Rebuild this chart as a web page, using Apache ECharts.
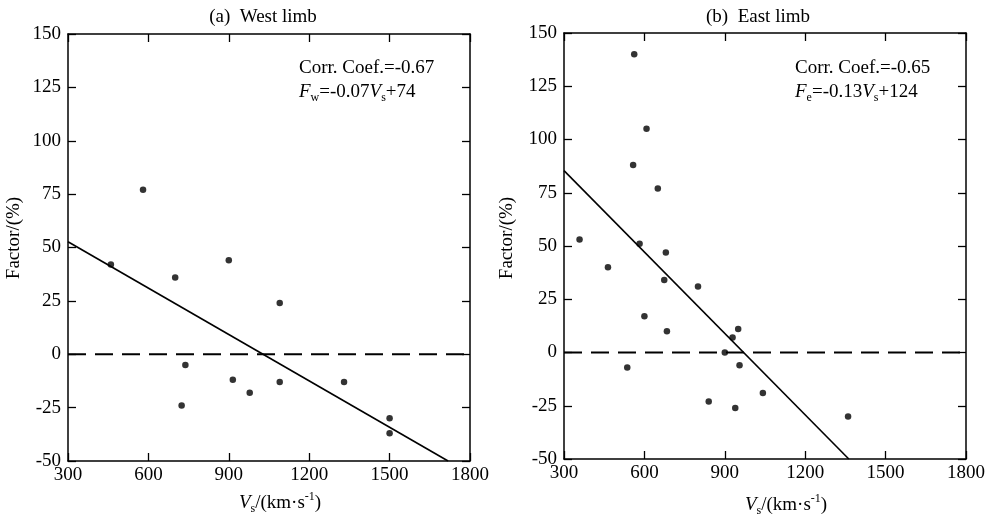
<!DOCTYPE html>
<html>
<head>
<meta charset="utf-8">
<script src="https://cdn.jsdelivr.net/npm/echarts@6/dist/echarts.min.js"></script>
<style>
html, body { margin: 0; padding: 0; background: #fff; }
#chart { width: 993px; height: 519px; }
</style>
</head>
<body>
<div id="chart"></div>
<script>
// Axis ranges and ticks shared by both panels
const vsMin = 300, vsMax = 1800, vsStep = 300;
const factorMin = -50, factorMax = 150, factorStep = 25;

// (a) West limb: shock speed Vs (km/s) vs. factor (%)
const westVs     = [460, 580, 700, 900, 1090, 738, 915, 978, 1090, 1330, 724, 1500, 1500];
const westFactor = [42,  77,  36,  44,  24,   -5,  -12, -18, -13,  -13,  -24, -30,  -37];

// (b) East limb
const eastVs     = [562, 608, 558, 650, 358, 582, 680, 464, 674, 800, 600, 684, 950, 929, 900, 955, 536, 1042, 840, 939, 1360];
const eastFactor = [140, 105, 88,  77,  53,  51,  47,  40,  34,  31,  17,  10,  11,  7,   0,   -6,  -7,  -19,  -23, -26, -30];

// Linear fits F = slope * Vs + intercept
const westFit = { slope: -0.0724, intercept: 74.4 };
const eastFit = { slope: -0.1274, intercept: 123.6 };

const serif = 'Liberation Serif, Times New Roman, serif';
const ink = '#000';

function fitSegment(fit) {
  // clip the regression line to the plotted window
  const x0 = vsMin;
  const xEnd = Math.min(vsMax, (factorMin - fit.intercept) / fit.slope);
  return [[x0, fit.slope * x0 + fit.intercept], [xEnd, fit.slope * xEnd + fit.intercept]];
}

function pairs(xs, ys) { return xs.map((x, i) => [x, ys[i]]); }

const plain = v => String(v);

const grids = [
  { left: 68, top: 34, width: 402, height: 427 },
  { left: 564, top: 33, width: 402, height: 426 }
];

function xAxisPair(gi) {
  const base = {
    gridIndex: gi, type: 'value', min: vsMin, max: vsMax, interval: vsStep,
    splitLine: { show: false },
    axisLine: { show: true, onZero: false, lineStyle: { color: ink, width: 1.5 } },
    axisTick: { show: true, inside: true, length: 8, lineStyle: { color: ink, width: 1.3 } }
  };
  return [
    Object.assign({}, base, { position: 'bottom',
      axisLabel: { color: ink, fontFamily: serif, fontSize: 19, margin: 5, hideOverlap: false, formatter: plain } }),
    Object.assign({}, base, { position: 'top', axisLabel: { show: false } })
  ];
}

function yAxisPair(gi) {
  const base = {
    gridIndex: gi, type: 'value', min: factorMin, max: factorMax, interval: factorStep,
    splitLine: { show: false },
    axisLine: { show: true, onZero: false, lineStyle: { color: ink, width: 1.5 } },
    axisTick: { show: true, inside: true, length: 8, lineStyle: { color: ink, width: 1.3 } }
  };
  return [
    Object.assign({}, base, { position: 'left',
      axisLabel: { color: ink, fontFamily: serif, fontSize: 19, margin: 7, hideOverlap: false, formatter: plain } }),
    Object.assign({}, base, { position: 'right', axisLabel: { show: false } })
  ];
}

function panelSeries(xIdx, yIdx, vs, factor, fit) {
  return [
    {
      type: 'line', xAxisIndex: xIdx, yAxisIndex: yIdx,
      data: [[vsMin, 0], [vsMax, 0]],
      symbol: 'none', silent: true,
      lineStyle: { color: ink, width: 2, type: [18, 9] }
    },
    {
      type: 'line', xAxisIndex: xIdx, yAxisIndex: yIdx,
      data: fitSegment(fit),
      symbol: 'none', silent: true,
      lineStyle: { color: ink, width: 1.6 }
    },
    {
      type: 'scatter', xAxisIndex: xIdx, yAxisIndex: yIdx,
      data: pairs(vs, factor),
      symbol: 'circle', symbolSize: 6.5,
      itemStyle: { color: ink }
    }
  ];
}

const richText = {
  n:   { fontFamily: serif, fontSize: 19, color: ink, lineHeight: 24 },
  i:   { fontFamily: serif, fontSize: 19, fontStyle: 'italic', color: ink, lineHeight: 24 },
  sub: { fontFamily: serif, fontSize: 12, color: ink, lineHeight: 12, verticalAlign: 'bottom' },
  sup: { fontFamily: serif, fontSize: 12, color: ink, lineHeight: 12, verticalAlign: 'top' }
};

function txt(x, y, text, opts) {
  return Object.assign({
    type: 'text', x: x, y: y, silent: true,
    style: Object.assign({
      text: text, fill: ink, font: '19px ' + serif,
      align: 'center', verticalAlign: 'middle', rich: richText
    }, (opts && opts.style) || {})
  }, opts && opts.el ? opts.el : {});
}

const graphics = [
  // panel titles
  txt(263, 17, '(a)  West limb'),
  txt(758, 17, '(b)  East limb'),
  // y axis names
  txt(14, 238, 'Factor/(%)', { el: { rotation: Math.PI / 2 } }),
  txt(507, 238, 'Factor/(%)', { el: { rotation: Math.PI / 2 } }),
  // x axis names
  txt(280, 503, '{i|V}{sub|s}{n|/(km·s}{sup|-1}{n|)}'),
  txt(786, 505, '{i|V}{sub|s}{n|/(km·s}{sup|-1}{n|)}'),
  // fit annotations
  txt(299, 68, 'Corr. Coef.=-0.67', { style: { align: 'left' } }),
  txt(299, 92, '{i|F}{sub|w}{n|=-0.07}{i|V}{sub|s}{n|+74}', { style: { align: 'left' } }),
  txt(795, 68, 'Corr. Coef.=-0.65', { style: { align: 'left' } }),
  txt(795, 92, '{i|F}{sub|e}{n|=-0.13}{i|V}{sub|s}{n|+124}', { style: { align: 'left' } })
];

const chart = echarts.init(document.getElementById('chart'), null, { renderer: 'canvas' });
chart.setOption({
  animation: false,
  backgroundColor: '#fff',
  grid: grids,
  xAxis: [...xAxisPair(0), ...xAxisPair(1)],
  yAxis: [...yAxisPair(0), ...yAxisPair(1)],
  series: [
    ...panelSeries(0, 0, westVs, westFactor, westFit),
    ...panelSeries(2, 2, eastVs, eastFactor, eastFit)
  ],
  graphic: graphics
});
</script>
</body>
</html>
